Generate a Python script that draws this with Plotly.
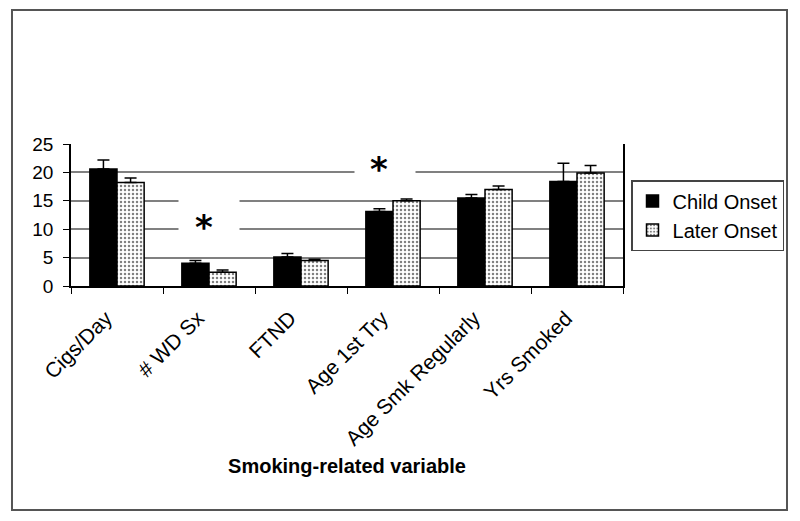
import plotly.graph_objects as go

categories = ["Cigs/Day", "# WD Sx", "FTND", "Age 1st Try", "Age Smk Regularly", "Yrs Smoked"]
child_onset = [20.6, 4.0, 5.1, 13.1, 15.5, 18.4]
child_err = [1.6, 0.5, 0.6, 0.5, 0.6, 3.2]
later_onset = [18.2, 2.4, 4.5, 15.0, 17.0, 19.9]
later_err = [0.8, 0.4, 0.2, 0.3, 0.6, 1.3]
y_ticks = [0, 5, 10, 15, 20, 25]

# significance stars: category, star level
sig_categories = ["# WD Sx", "Age 1st Try"]
sig_levels = [11.1, 21.3]

font = "Liberation Sans, Arial, sans-serif"

fig = go.Figure()
fig.add_trace(go.Bar(
    name="Child Onset", x=categories, y=child_onset,
    marker=dict(color="black", line=dict(color="black", width=1.5)),
    error_y=dict(type="data", symmetric=False, array=child_err,
                 arrayminus=[0] * len(child_err), color="black", thickness=1.5, width=6),
))
fig.add_trace(go.Bar(
    name="Later Onset", x=categories, y=later_onset,
    marker=dict(color="white", line=dict(color="black", width=1.5),
                pattern=dict(shape=".", fgcolor="black", bgcolor="white", size=4, solidity=0.3)),
    error_y=dict(type="data", symmetric=False, array=later_err,
                 arrayminus=[0] * len(later_err), color="black", thickness=1.5, width=6),
))

# white text boxes behind the stars (they cut the gridlines), then the stars
box_shift = [0, -8]
star_shift = [-5, -14]
for i, cat in enumerate(sig_categories):
    fig.add_annotation(x=cat, y=sig_levels[i] + 1.3, text=" ", showarrow=False,
                       xshift=box_shift[i], bgcolor="white", width=58, height=52)
    fig.add_annotation(x=cat, y=sig_levels[i], text="<b>*</b>", showarrow=False,
                       xshift=star_shift[i], yshift=-4,
                       font=dict(family="DejaVu Sans", size=34, color="black"))

# outer frame around the whole picture
fig.add_shape(type="rect", xref="paper", yref="paper",
              x0=-0.1069, x1=1.2971, y0=-1.5775, y1=1.9437,
              line=dict(color="#555555", width=2))

# page body has an 8px margin, so the figure is shifted by that amount
fig.update_layout(
    width=792, height=513,
    margin=dict(l=63, r=177, t=136, b=235),
    paper_bgcolor="white", plot_bgcolor="white",
    font=dict(family=font, size=16, color="black"),
    bargap=0.41, bargroupgap=0,
    showlegend=True,
    legend=dict(x=1.0145, y=0.746, xanchor="left", yanchor="top",
                bordercolor="#444444", borderwidth=1.5,
                font=dict(family=font, size=20)),
    xaxis=dict(
        tickangle=-45, showline=True, linecolor="black", linewidth=1.5,
        ticks="outside", tickson="boundaries", ticklen=6, tickcolor="black",
        tickfont=dict(size=21), ticklabelstandoff=10, ticklabelshift=-11,
        title=dict(text="<b>Smoking-related variable</b>", font=dict(size=20), standoff=10),
    ),
    yaxis=dict(
        range=[0, 25], tickvals=y_ticks, showline=True, linecolor="black", linewidth=1.5,
        mirror=True, ticks="outside", ticklen=6, tickcolor="black",
        showgrid=True, gridcolor="#808080", gridwidth=1.5, zeroline=False,
        tickfont=dict(size=19), ticklabelstandoff=6,
    ),
)

fig.write_html("out.html")
